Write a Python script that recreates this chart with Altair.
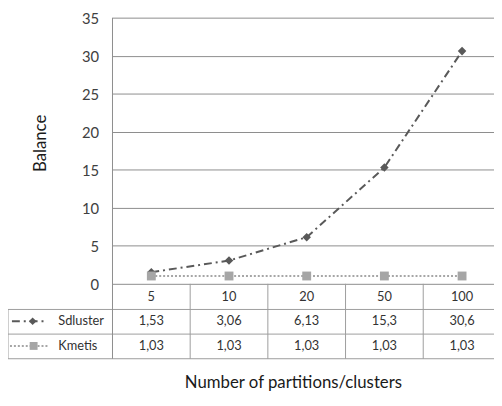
import altair as alt
import pandas as pd

categories = ["5", "10", "20", "50", "100"]
sdluster = [1.53, 3.06, 6.13, 15.3, 30.6]
kmetis = [1.03, 1.03, 1.03, 1.03, 1.03]
series_names = ["Sdluster", "Kmetis"]
y_ticks = [0, 5, 10, 15, 20, 25, 30, 35]
x_title = "Number of partitions/clusters"
y_title = "Balance"

FONT = "Lato"
GRID = "#8c8c8c"
TABLE = "#9c9c9c"
DARK = "#595959"
LIGHT = "#a6a6a6"

H = 270  # plot height
R1, R2, R3 = H + 26, H + 51, H + 76  # table row lines


def fmt(v):
    return f"{v:g}".replace(".", ",")


df_s = pd.DataFrame({"cat": categories, "value": sdluster,
                     "label": [fmt(v) for v in sdluster]})
df_k = pd.DataFrame({"cat": categories, "value": kmetis,
                     "label": [fmt(v) for v in kmetis]})
df_bounds = pd.DataFrame({"cat": categories[1:]})
one = pd.DataFrame({"a": [0]})

xscale = alt.Scale(type="band", domain=categories, paddingInner=0,
                   paddingOuter=0, range=[0, 394])
yscale = alt.Scale(domain=[0, 35], nice=False, zero=True)

x_axis = alt.Axis(title=x_title, domain=False, ticks=False, grid=False,
                  labelAngle=0, labelPadding=13, labelBaseline="middle",
                  labelFontSize=13, labelFont=FONT, labelColor="#333333",
                  titleFont=FONT, titleFontSize=17, titleFontWeight="normal",
                  titleColor="#1a1a1a", titleX=183, titleY=100,
                  titleBaseline="middle", titleAlign="center")
y_axis = alt.Axis(values=y_ticks, title=y_title, domain=False, ticks=False,
                  grid=True, gridColor=GRID, gridWidth=1, labelPadding=14,
                  labelFontSize=15, labelFont=FONT, labelColor="#404040",
                  labelOffset=1,
                  titleFont=FONT, titleFontSize=17, titleFontWeight="normal",
                  titleColor="#1a1a1a", titleX=-73, titleY=127,
                  titleBaseline="middle", titleAngle=270, titleAlign="center")


def xc(bp=0.5):
    return alt.X("cat:N", scale=xscale, sort=categories, bandPosition=bp,
                 axis=x_axis)


y_enc = alt.Y("value:Q", scale=yscale, axis=y_axis)

layers = []

# table horizontal lines
for yy in [R1, R2, R3]:
    layers.append(alt.Chart(one).mark_rule(color=TABLE, strokeWidth=1).encode(
        x=alt.value(-106), x2=alt.value(400), y=alt.value(yy)))
# table left border
layers.append(alt.Chart(one).mark_rule(color=TABLE, strokeWidth=1).encode(
    x=alt.value(-106), y=alt.value(R1), y2=alt.value(R3)))
# plot left line
layers.append(alt.Chart(one).mark_rule(color=GRID, strokeWidth=1).encode(
    x=alt.value(0), y=alt.value(0), y2=alt.value(R3)))
# category boundaries
layers.append(alt.Chart(df_bounds).mark_rule(color=TABLE, strokeWidth=1).encode(
    x=xc(0), y=alt.value(H), y2=alt.value(R3)))

# data lines
layers.append(alt.Chart(df_s).mark_line(color=DARK, strokeWidth=2,
                                        strokeDash=[8, 4, 2, 4]).encode(x=xc(), y=y_enc))
layers.append(alt.Chart(df_k).mark_line(color=LIGHT, strokeWidth=2,
                                        strokeDash=[2, 2]).encode(x=xc(), y=y_enc))
layers.append(alt.Chart(df_s).mark_point(shape="diamond", filled=True, size=75,
                                         color=DARK, opacity=1).encode(x=xc(), y=y_enc))
layers.append(alt.Chart(df_k).mark_point(shape="square", filled=True, size=81,
                                         color=LIGHT, opacity=1).encode(x=xc(), y=y_enc))

# table values
for df, yy in [(df_s, R1 + 12), (df_k, R2 + 12)]:
    layers.append(alt.Chart(df).mark_text(font=FONT, fontSize=13, color="#333333",
                                          baseline="middle").encode(
        x=xc(), y=alt.value(yy), text="label:N"))

# series names
df_names = pd.DataFrame({"name": series_names, "row": [0, 1]})
for i, name in enumerate(series_names):
    layers.append(alt.Chart(df_names[df_names["row"] == i]).mark_text(
        font=FONT, fontSize=13, color="#333333", align="left", baseline="middle").encode(
        x=alt.value(-55), y=alt.value(R1 + 12 + 25 * i), text="name:N"))

# legend keys
layers.append(alt.Chart(one).mark_rule(color=DARK, strokeWidth=2,
                                       strokeDash=[8, 4, 2, 4]).encode(
    x=alt.value(-102), x2=alt.value(-66), y=alt.value(R1 + 12)))
layers.append(alt.Chart(one).mark_point(shape="diamond", filled=True, size=60,
                                        color=DARK, opacity=1).encode(
    x=alt.value(-81), y=alt.value(R1 + 12)))
layers.append(alt.Chart(one).mark_rule(color=LIGHT, strokeWidth=2,
                                       strokeDash=[2, 2]).encode(
    x=alt.value(-104), x2=alt.value(-66), y=alt.value(R2 + 12)))
layers.append(alt.Chart(one).mark_point(shape="square", filled=True, size=64,
                                        color=LIGHT, opacity=1).encode(
    x=alt.value(-80), y=alt.value(R2 + 12)))

chart = alt.layer(*layers).properties(
    width=387, height=H,
    autosize=alt.AutoSizeParams(type="none"),
    padding={"left": 106, "top": 7, "right": 0, "bottom": 112},
    background="white",
).configure_view(stroke=None)

chart.save("out.html", embed_options={"renderer": "svg", "actions": False})
